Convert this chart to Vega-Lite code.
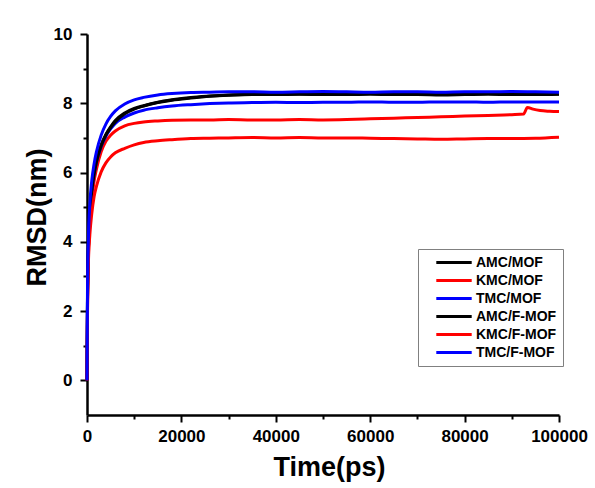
{
  "$schema": "https://vega.github.io/schema/vega-lite/v6.json",
  "width": 472,
  "height": 381,
  "autosize": "none",
  "padding": {"left": 87, "top": 34, "right": 36, "bottom": 73},
  "background": "white",
  "config": {
    "view": {"stroke": null},
    "font": "Liberation Sans",
    "axis": {
      "grid": false,
      "domainColor": "black",
      "domainWidth": 2.5,
      "tickColor": "black",
      "tickWidth": 2,
      "labelFont": "Liberation Sans",
      "labelFontWeight": "bold",
      "labelFontSize": 17,
      "labelColor": "black",
      "titleFont": "Liberation Sans",
      "titleFontWeight": "bold",
      "titleColor": "black"
    },
    "legend": {
      "orient": "none",
      "legendX": 331,
      "legendY": 215,
      "fillColor": "white",
      "strokeColor": "#808080",
      "strokeWidth": 1,
      "padding": 6,
      "symbolType": "M0.8,0H6.7",
      "symbolStrokeWidth": 3,
      "symbolSize": 144,
      "symbolFillColor": "transparent",
      "labelOffset": 37,
      "labelFont": "Liberation Sans",
      "labelFontWeight": "bold",
      "labelFontSize": 14,
      "labelColor": "black",
      "rowPadding": 3
    }
  },
  "datasets": {
    "rmsd": [
      {"s":"AMC/MOF","t":0,"v":0},{"s":"AMC/MOF","t":100,"v":2.3},{"s":"AMC/MOF","t":300,"v":3.8},{"s":"AMC/MOF","t":600,"v":4.8},{"s":"AMC/MOF","t":1000,"v":5.5},{"s":"AMC/MOF","t":1500,"v":6.0},{"s":"AMC/MOF","t":2000,"v":6.35},{"s":"AMC/MOF","t":3000,"v":6.8},{"s":"AMC/MOF","t":4000,"v":7.1},{"s":"AMC/MOF","t":5000,"v":7.32},{"s":"AMC/MOF","t":6000,"v":7.5},{"s":"AMC/MOF","t":8000,"v":7.72},{"s":"AMC/MOF","t":10000,"v":7.85},{"s":"AMC/MOF","t":12000,"v":7.93},{"s":"AMC/MOF","t":15000,"v":8.03},{"s":"AMC/MOF","t":18000,"v":8.1},{"s":"AMC/MOF","t":22000,"v":8.17},{"s":"AMC/MOF","t":26000,"v":8.21},{"s":"AMC/MOF","t":30000,"v":8.24},{"s":"AMC/MOF","t":35000,"v":8.26},{"s":"AMC/MOF","t":40000,"v":8.27},{"s":"AMC/MOF","t":45000,"v":8.27},{"s":"AMC/MOF","t":50000,"v":8.26},{"s":"AMC/MOF","t":55000,"v":8.27},{"s":"AMC/MOF","t":60000,"v":8.28},{"s":"AMC/MOF","t":65000,"v":8.27},{"s":"AMC/MOF","t":70000,"v":8.26},{"s":"AMC/MOF","t":75000,"v":8.27},{"s":"AMC/MOF","t":80000,"v":8.27},{"s":"AMC/MOF","t":85000,"v":8.28},{"s":"AMC/MOF","t":90000,"v":8.27},{"s":"AMC/MOF","t":95000,"v":8.27},{"s":"AMC/MOF","t":100000,"v":8.27},

      {"s":"KMC/MOF","t":0,"v":0},{"s":"KMC/MOF","t":100,"v":2.0},{"s":"KMC/MOF","t":300,"v":3.6},{"s":"KMC/MOF","t":600,"v":4.5},{"s":"KMC/MOF","t":1000,"v":5.2},{"s":"KMC/MOF","t":1500,"v":5.75},{"s":"KMC/MOF","t":2000,"v":6.1},{"s":"KMC/MOF","t":3000,"v":6.6},{"s":"KMC/MOF","t":4000,"v":6.9},{"s":"KMC/MOF","t":5000,"v":7.08},{"s":"KMC/MOF","t":6000,"v":7.2},{"s":"KMC/MOF","t":8000,"v":7.35},{"s":"KMC/MOF","t":10000,"v":7.42},{"s":"KMC/MOF","t":12000,"v":7.46},{"s":"KMC/MOF","t":15000,"v":7.49},{"s":"KMC/MOF","t":18000,"v":7.51},{"s":"KMC/MOF","t":22000,"v":7.52},{"s":"KMC/MOF","t":26000,"v":7.52},{"s":"KMC/MOF","t":30000,"v":7.53},{"s":"KMC/MOF","t":35000,"v":7.52},{"s":"KMC/MOF","t":40000,"v":7.52},{"s":"KMC/MOF","t":45000,"v":7.53},{"s":"KMC/MOF","t":50000,"v":7.52},{"s":"KMC/MOF","t":55000,"v":7.53},{"s":"KMC/MOF","t":60000,"v":7.55},{"s":"KMC/MOF","t":65000,"v":7.57},{"s":"KMC/MOF","t":70000,"v":7.59},{"s":"KMC/MOF","t":75000,"v":7.61},{"s":"KMC/MOF","t":80000,"v":7.63},{"s":"KMC/MOF","t":85000,"v":7.65},{"s":"KMC/MOF","t":90000,"v":7.67},{"s":"KMC/MOF","t":92500,"v":7.69},{"s":"KMC/MOF","t":93300,"v":7.88},{"s":"KMC/MOF","t":94500,"v":7.83},{"s":"KMC/MOF","t":96000,"v":7.79},{"s":"KMC/MOF","t":98000,"v":7.77},{"s":"KMC/MOF","t":100000,"v":7.76},

      {"s":"TMC/MOF","t":0,"v":0},{"s":"TMC/MOF","t":100,"v":2.2},{"s":"TMC/MOF","t":300,"v":3.8},{"s":"TMC/MOF","t":600,"v":4.8},{"s":"TMC/MOF","t":1000,"v":5.45},{"s":"TMC/MOF","t":1500,"v":5.95},{"s":"TMC/MOF","t":2000,"v":6.3},{"s":"TMC/MOF","t":3000,"v":6.75},{"s":"TMC/MOF","t":4000,"v":7.05},{"s":"TMC/MOF","t":5000,"v":7.26},{"s":"TMC/MOF","t":6000,"v":7.42},{"s":"TMC/MOF","t":8000,"v":7.6},{"s":"TMC/MOF","t":10000,"v":7.72},{"s":"TMC/MOF","t":12000,"v":7.8},{"s":"TMC/MOF","t":15000,"v":7.87},{"s":"TMC/MOF","t":18000,"v":7.92},{"s":"TMC/MOF","t":22000,"v":7.96},{"s":"TMC/MOF","t":26000,"v":7.99},{"s":"TMC/MOF","t":30000,"v":8.01},{"s":"TMC/MOF","t":35000,"v":8.02},{"s":"TMC/MOF","t":40000,"v":8.03},{"s":"TMC/MOF","t":45000,"v":8.02},{"s":"TMC/MOF","t":50000,"v":8.03},{"s":"TMC/MOF","t":55000,"v":8.03},{"s":"TMC/MOF","t":60000,"v":8.04},{"s":"TMC/MOF","t":65000,"v":8.03},{"s":"TMC/MOF","t":70000,"v":8.03},{"s":"TMC/MOF","t":75000,"v":8.04},{"s":"TMC/MOF","t":80000,"v":8.04},{"s":"TMC/MOF","t":85000,"v":8.03},{"s":"TMC/MOF","t":90000,"v":8.04},{"s":"TMC/MOF","t":95000,"v":8.04},{"s":"TMC/MOF","t":100000,"v":8.04},

      {"s":"AMC/F-MOF","t":0,"v":0},{"s":"AMC/F-MOF","t":100,"v":2.2},{"s":"AMC/F-MOF","t":300,"v":3.75},{"s":"AMC/F-MOF","t":600,"v":4.75},{"s":"AMC/F-MOF","t":1000,"v":5.45},{"s":"AMC/F-MOF","t":1500,"v":5.95},{"s":"AMC/F-MOF","t":2000,"v":6.3},{"s":"AMC/F-MOF","t":3000,"v":6.77},{"s":"AMC/F-MOF","t":4000,"v":7.08},{"s":"AMC/F-MOF","t":5000,"v":7.3},{"s":"AMC/F-MOF","t":6000,"v":7.47},{"s":"AMC/F-MOF","t":8000,"v":7.7},{"s":"AMC/F-MOF","t":10000,"v":7.83},{"s":"AMC/F-MOF","t":12000,"v":7.92},{"s":"AMC/F-MOF","t":15000,"v":8.02},{"s":"AMC/F-MOF","t":18000,"v":8.09},{"s":"AMC/F-MOF","t":22000,"v":8.15},{"s":"AMC/F-MOF","t":26000,"v":8.2},{"s":"AMC/F-MOF","t":30000,"v":8.23},{"s":"AMC/F-MOF","t":35000,"v":8.25},{"s":"AMC/F-MOF","t":40000,"v":8.25},{"s":"AMC/F-MOF","t":45000,"v":8.26},{"s":"AMC/F-MOF","t":50000,"v":8.25},{"s":"AMC/F-MOF","t":55000,"v":8.25},{"s":"AMC/F-MOF","t":60000,"v":8.26},{"s":"AMC/F-MOF","t":65000,"v":8.25},{"s":"AMC/F-MOF","t":70000,"v":8.25},{"s":"AMC/F-MOF","t":75000,"v":8.24},{"s":"AMC/F-MOF","t":80000,"v":8.25},{"s":"AMC/F-MOF","t":85000,"v":8.26},{"s":"AMC/F-MOF","t":90000,"v":8.25},{"s":"AMC/F-MOF","t":95000,"v":8.25},{"s":"AMC/F-MOF","t":100000,"v":8.26},

      {"s":"KMC/F-MOF","t":0,"v":0},{"s":"KMC/F-MOF","t":100,"v":1.8},{"s":"KMC/F-MOF","t":300,"v":3.4},{"s":"KMC/F-MOF","t":600,"v":4.2},{"s":"KMC/F-MOF","t":1000,"v":4.8},{"s":"KMC/F-MOF","t":1500,"v":5.3},{"s":"KMC/F-MOF","t":2000,"v":5.6},{"s":"KMC/F-MOF","t":3000,"v":6.02},{"s":"KMC/F-MOF","t":4000,"v":6.28},{"s":"KMC/F-MOF","t":5000,"v":6.45},{"s":"KMC/F-MOF","t":6000,"v":6.57},{"s":"KMC/F-MOF","t":8000,"v":6.7},{"s":"KMC/F-MOF","t":10000,"v":6.8},{"s":"KMC/F-MOF","t":12000,"v":6.87},{"s":"KMC/F-MOF","t":15000,"v":6.92},{"s":"KMC/F-MOF","t":18000,"v":6.95},{"s":"KMC/F-MOF","t":22000,"v":6.98},{"s":"KMC/F-MOF","t":26000,"v":6.99},{"s":"KMC/F-MOF","t":30000,"v":7.0},{"s":"KMC/F-MOF","t":35000,"v":7.01},{"s":"KMC/F-MOF","t":40000,"v":7.0},{"s":"KMC/F-MOF","t":45000,"v":7.01},{"s":"KMC/F-MOF","t":50000,"v":7.0},{"s":"KMC/F-MOF","t":55000,"v":7.0},{"s":"KMC/F-MOF","t":60000,"v":6.99},{"s":"KMC/F-MOF","t":65000,"v":6.98},{"s":"KMC/F-MOF","t":70000,"v":6.97},{"s":"KMC/F-MOF","t":75000,"v":6.96},{"s":"KMC/F-MOF","t":80000,"v":6.97},{"s":"KMC/F-MOF","t":85000,"v":6.98},{"s":"KMC/F-MOF","t":90000,"v":6.98},{"s":"KMC/F-MOF","t":95000,"v":6.99},{"s":"KMC/F-MOF","t":100000,"v":7.02},

      {"s":"TMC/F-MOF","t":0,"v":0},{"s":"TMC/F-MOF","t":100,"v":2.5},{"s":"TMC/F-MOF","t":300,"v":4.1},{"s":"TMC/F-MOF","t":600,"v":5.1},{"s":"TMC/F-MOF","t":1000,"v":5.75},{"s":"TMC/F-MOF","t":1500,"v":6.25},{"s":"TMC/F-MOF","t":2000,"v":6.6},{"s":"TMC/F-MOF","t":3000,"v":7.08},{"s":"TMC/F-MOF","t":4000,"v":7.4},{"s":"TMC/F-MOF","t":5000,"v":7.62},{"s":"TMC/F-MOF","t":6000,"v":7.78},{"s":"TMC/F-MOF","t":8000,"v":7.98},{"s":"TMC/F-MOF","t":10000,"v":8.1},{"s":"TMC/F-MOF","t":12000,"v":8.17},{"s":"TMC/F-MOF","t":15000,"v":8.24},{"s":"TMC/F-MOF","t":18000,"v":8.28},{"s":"TMC/F-MOF","t":22000,"v":8.31},{"s":"TMC/F-MOF","t":26000,"v":8.32},{"s":"TMC/F-MOF","t":30000,"v":8.33},{"s":"TMC/F-MOF","t":35000,"v":8.33},{"s":"TMC/F-MOF","t":40000,"v":8.32},{"s":"TMC/F-MOF","t":45000,"v":8.33},{"s":"TMC/F-MOF","t":50000,"v":8.34},{"s":"TMC/F-MOF","t":55000,"v":8.33},{"s":"TMC/F-MOF","t":60000,"v":8.32},{"s":"TMC/F-MOF","t":65000,"v":8.33},{"s":"TMC/F-MOF","t":70000,"v":8.33},{"s":"TMC/F-MOF","t":75000,"v":8.32},{"s":"TMC/F-MOF","t":80000,"v":8.33},{"s":"TMC/F-MOF","t":85000,"v":8.33},{"s":"TMC/F-MOF","t":90000,"v":8.34},{"s":"TMC/F-MOF","t":95000,"v":8.33},{"s":"TMC/F-MOF","t":100000,"v":8.32}
    ]
  },
  "data": {"name": "rmsd"},
  "mark": {"type": "line", "strokeWidth": 3, "interpolate": "monotone"},
  "encoding": {
    "x": {
      "field": "t",
      "type": "quantitative",
      "scale": {"domain": [0, 100000], "nice": false},
      "axis": {
        "title": "Time(ps)",
        "titleFontSize": 27,
        "titleX": 242,
        "titleY": 60,
        "titleBaseline": "alphabetic",
        "titleAlign": "center",
        "values": [0, 10000, 20000, 30000, 40000, 50000, 60000, 70000, 80000, 90000, 100000],
        "labelExpr": "datum.value % 20000 === 0 ? format(datum.value, 'd') : ''",
        "tickSize": {"condition": {"test": "datum.value % 20000 === 0", "value": 7}, "value": 4},
        "labelPadding": 6,
        "labelFlush": false
      }
    },
    "y": {
      "field": "v",
      "type": "quantitative",
      "scale": {"domain": [-1, 10], "nice": false, "zero": false},
      "axis": {
        "title": "RMSD(nm)",
        "titleFontSize": 27,
        "titleAngle": -90,
        "titleX": -50,
        "titleY": 183,
        "titleBaseline": "middle",
        "titleAlign": "center",
        "values": [0, 1, 2, 3, 4, 5, 6, 7, 8, 9, 10],
        "labelExpr": "datum.value % 2 === 0 ? datum.label : ''",
        "tickSize": {"condition": {"test": "datum.value % 2 === 0", "value": 7}, "value": 4},
        "labelPadding": 8
      }
    },
    "color": {
      "field": "s",
      "type": "nominal",
      "sort": ["AMC/MOF", "KMC/MOF", "TMC/MOF", "AMC/F-MOF", "KMC/F-MOF", "TMC/F-MOF"],
      "scale": {
        "domain": ["AMC/MOF", "KMC/MOF", "TMC/MOF", "AMC/F-MOF", "KMC/F-MOF", "TMC/F-MOF"],
        "range": ["#000000", "#ff0000", "#0000ff", "#000000", "#ff0000", "#0000ff"]
      },
      "legend": {"title": null}
    }
  }
}
